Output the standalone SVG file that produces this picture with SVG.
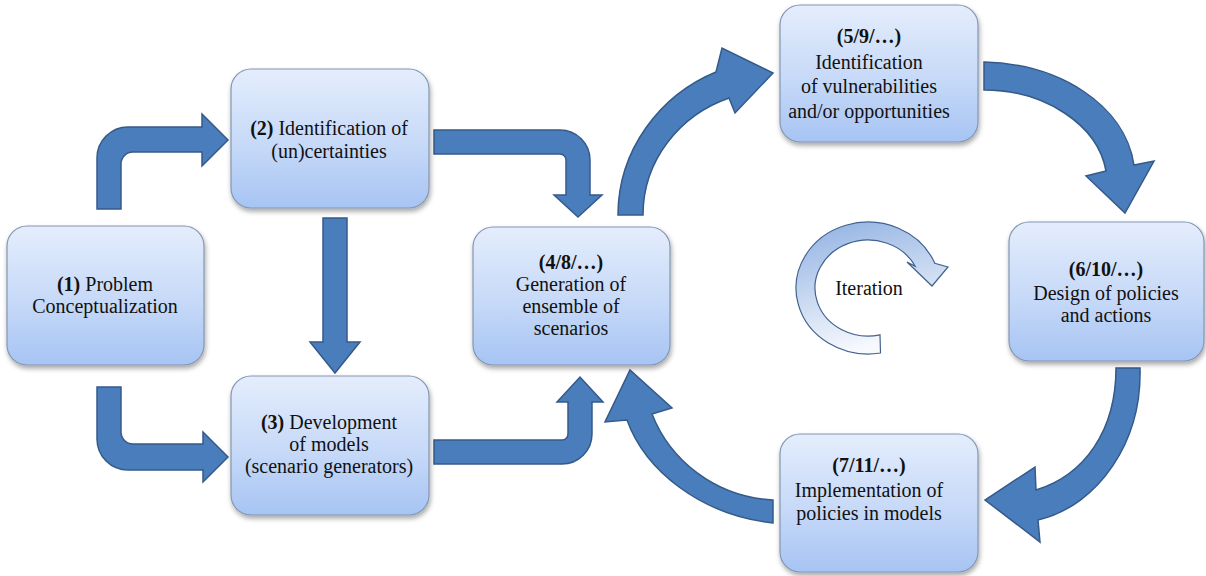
<svg xmlns="http://www.w3.org/2000/svg" width="1206" height="576" viewBox="0 0 1206 576">
<defs>
<linearGradient id="boxg" x1="0" y1="0" x2="0" y2="1">
<stop offset="0" stop-color="#e4edfc"/>
<stop offset="0.55" stop-color="#c6d9f8"/>
<stop offset="1" stop-color="#a7c4f3"/>
</linearGradient>
<linearGradient id="itg" x1="0" y1="0" x2="0.3" y2="1">
<stop offset="0" stop-color="#8fb0e2"/>
<stop offset="1" stop-color="#f7f9fd"/>
</linearGradient>
<filter id="sh" x="-10%" y="-10%" width="125%" height="130%">
<feDropShadow dx="1" dy="3" stdDeviation="2.5" flood-color="#000" flood-opacity="0.35"/>
</filter>
<style>
.box{fill:url(#boxg);stroke:#8396b2;stroke-width:1.2;filter:url(#sh)}
.arr{fill:#4a7dbb;stroke:#355a8a;stroke-width:1.5;stroke-linejoin:miter}
.t{font-size:20px;fill:#111;text-anchor:middle}
.b{font-weight:bold}
.it{fill:url(#itg);stroke:#41628f;stroke-width:1.2}
</style>
</defs>
<rect width="1206" height="576" fill="#fff"/>

<g id="connectors">
<path class="arr" d="M 97 209 L 97 158 A 31 31 0 0 1 128 127 L 202 127 L 202 114 L 228 140 L 202 166 L 202 152 L 133 152 A 12 12 0 0 0 121 164 L 121 209 Z"/>
<path class="arr" d="M 97 387 L 121 387 L 121 432 A 12 12 0 0 0 133 444 L 203 444 L 203 432 L 228 457 L 203 482 L 203 470 L 128 470 A 31 31 0 0 1 97 439 Z"/>
<path class="arr" d="M 323 218 L 347 218 L 347 342 L 360 342 L 335 373 L 310 342 L 323 342 Z"/>
<path class="arr" d="M 434 130 L 560 130 A 30 30 0 0 1 590 160 L 590 195 L 602 195 L 578 217 L 554 195 L 566 195 L 566 160 A 6 6 0 0 0 560 154 L 434 154 Z"/>
<path class="arr" d="M 434 440 L 562 440 A 6 6 0 0 0 568 434 L 568 402 L 557 402 L 580 377 L 603 402 L 592 402 L 592 434 A 30 30 0 0 1 562 464 L 434 464 Z"/>
<path class="arr" d="M 618 215 C 618 150 660 95 716 72 L 722 48 L 773 73 L 735 113 L 729 98 C 680 115 643 160 643 215 Z"/>
<path class="arr" d="M 984 62 C 1060 64 1125 105 1134 165 L 1154 161 L 1125 213 L 1086 176 L 1106 171 C 1098 125 1045 90 984 90 Z"/>
<path class="arr" d="M 1116 368 L 1140 368 C 1142 440 1100 505 1038 520 L 1040 542 L 985 500 L 1035 467 L 1036 490 C 1085 475 1116 430 1116 368 Z"/>
<path class="arr" d="M 773 523 C 700 515 645 470 627 420 L 605 422 L 630 370 L 672 408 L 652 414 C 670 460 715 497 773 500 Z"/>
</g>

<g font-family="Liberation Serif, DejaVu Serif, Times New Roman, serif">
<g id="iteration">
<path class="it" d="M 880.5 353 A 72 66 0 1 1 934.8 263.3 L 948 267 L 932 286 L 907 262 L 915.2 266.2 A 53 48 0 1 0 880 334.8 Z"/>
<text class="t" x="869" y="295">Iteration</text>
</g>

<g id="n1">
<rect class="box" x="7" y="226" width="197" height="139" rx="20"/>
<text class="t" x="105" y="291"><tspan class="b">(1)</tspan> Problem</text>
<text class="t" x="105" y="313">Conceptualization</text>
</g>

<g id="n2">
<rect class="box" x="231" y="69" width="198" height="139" rx="20"/>
<text class="t" x="329" y="135"><tspan class="b">(2)</tspan> Identification of</text>
<text class="t" x="329" y="158">(un)certainties</text>
</g>

<g id="n3">
<rect class="box" x="231" y="376" width="198" height="139" rx="20"/>
<text class="t" x="329" y="429"><tspan class="b">(3)</tspan> Development</text>
<text class="t" x="329" y="451">of models</text>
<text class="t" x="329" y="473">(scenario generators)</text>
</g>

<g id="n4">
<rect class="box" x="473" y="227" width="197" height="138" rx="20"/>
<text class="t b" x="571" y="269">(4/8/…)</text>
<text class="t" x="571" y="291">Generation of</text>
<text class="t" x="571" y="313">ensemble of</text>
<text class="t" x="571" y="335">scenarios</text>
</g>

<g id="n5">
<rect class="box" x="780" y="5" width="198" height="137" rx="20"/>
<text class="t b" x="869" y="43">(5/9/…)</text>
<text class="t" x="869" y="69">Identification</text>
<text class="t" x="869" y="93">of vulnerabilities</text>
<text class="t" x="869" y="118">and/or opportunities</text>
</g>

<g id="n6">
<rect class="box" x="1009" y="222" width="195" height="139" rx="20"/>
<text class="t b" x="1106" y="276">(6/10/…)</text>
<text class="t" x="1106" y="300">Design of policies</text>
<text class="t" x="1106" y="322">and actions</text>
</g>

<g id="n7">
<rect class="box" x="780" y="434" width="198" height="138" rx="20"/>
<text class="t b" x="869" y="472">(7/11/…)</text>
<text class="t" x="869" y="497">Implementation of</text>
<text class="t" x="869" y="520">policies in models</text>
</g>
</g>
</svg>
